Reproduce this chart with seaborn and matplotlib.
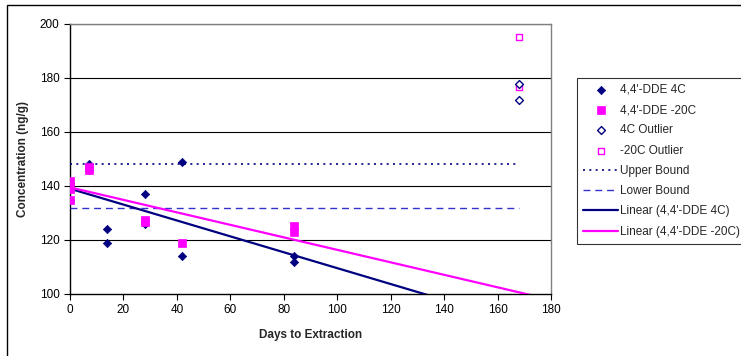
import numpy as np
import pandas as pd
import seaborn as sns
from matplotlib import pyplot as plt
from matplotlib.patches import Rectangle

# values
days_4c = [0, 0, 0, 7, 7, 14, 14, 28, 28, 42, 42, 84, 84]
conc_4c = [141, 139, 135, 148, 146, 124, 119, 137, 126, 149, 114, 114, 112]
days_20c = [0, 0, 0, 7, 7, 28, 28, 42, 84, 84]
conc_20c = [142, 139, 135, 147, 146, 127.4, 126.8, 118.8, 125.2, 122.9]
days_out_4c = [168, 168]
conc_out_4c = [177.7, 171.9]
days_out_20c = [168, 168]
conc_out_20c = [195.1, 176.8]
upper_bound = 148.1
lower_bound = 131.7
x_ticks = list(range(0, 181, 20))
y_ticks = list(range(100, 201, 20))

NAVY = '#000080'
PINK = '#FF00FF'

sns.set_style('white')
plt.rcParams['font.family'] = ['Liberation Sans', 'DejaVu Sans']

fig = plt.figure(figsize=(7.41, 3.56), dpi=100)
ax = fig.add_axes([70 / 741, 1 - 294 / 356, 481 / 741, 270 / 356])

# outer chart border (runs off the right and bottom of the picture)
fig.patches.append(Rectangle((7 / 741, -0.2), 1.2, 1 - 5 / 356 + 0.2,
                             transform=fig.transFigure, fill=False,
                             edgecolor='black', linewidth=1.0, zorder=0))

for y in y_ticks[1:]:
    ax.axhline(y, color='black', linewidth=0.8, zorder=1)

df4 = pd.DataFrame({'Days': days_4c, 'Conc': conc_4c})
df20 = pd.DataFrame({'Days': days_20c, 'Conc': conc_20c})

xs = np.array([0, 180])
fit4 = np.polyfit(days_4c, conc_4c, 1)
fit20 = np.polyfit(days_20c, conc_20c, 1)

sns.scatterplot(data=df4, x='Days', y='Conc', ax=ax, marker='D', s=18,
                color=NAVY, edgecolor=NAVY, linewidth=0.5, zorder=4,
                label="4,4'-DDE 4C")
sns.scatterplot(data=df20, x='Days', y='Conc', ax=ax, marker='s', s=26,
                color=PINK, edgecolor=PINK, linewidth=0.5, zorder=5,
                label="4,4'-DDE -20C")
sns.scatterplot(x=days_out_4c, y=conc_out_4c, ax=ax, marker='D', s=16,
                facecolor='white', edgecolor=NAVY, linewidth=1.0, zorder=5,
                label='4C Outlier')
sns.scatterplot(x=days_out_20c, y=conc_out_20c, ax=ax, marker='s', s=22,
                facecolor='white', edgecolor=PINK, linewidth=1.0, zorder=4,
                label='-20C Outlier')
ax.plot([0, 168], [upper_bound, upper_bound], linestyle=(0, (1.2, 2.6)),
        color=NAVY, linewidth=1.2, zorder=3, label='Upper Bound')
ax.plot([0, 168], [lower_bound, lower_bound], linestyle=(0, (5, 3.5)),
        color='#3333CC', linewidth=1.0, zorder=3, label='Lower Bound')
sns.lineplot(x=xs, y=np.polyval(fit4, xs), ax=ax, color=NAVY, linewidth=1.6,
             zorder=3, label="Linear (4,4'-DDE 4C)")
sns.lineplot(x=xs, y=np.polyval(fit20, xs), ax=ax, color=PINK, linewidth=1.6,
             zorder=3, label="Linear (4,4'-DDE -20C)")

ax.set_xlim(0, 180)
ax.set_ylim(100, 200)
ax.set_xticks(x_ticks)
ax.set_yticks(y_ticks)
ax.tick_params(axis='both', direction='out', length=4, width=0.8,
               labelsize=8.5, colors='black', bottom=True, left=True)
for side in ['top', 'right']:
    ax.spines[side].set_color('#808080')
    ax.spines[side].set_linewidth(1.0)
for side in ['bottom', 'left']:
    ax.spines[side].set_color('black')
    ax.spines[side].set_linewidth(1.0)
ax.set_xlabel('Days to Extraction', fontsize=8.5, fontweight='bold', labelpad=9)
ax.set_ylabel('Concentration (ng/g)', fontsize=8.5, fontweight='bold', labelpad=8)

leg = ax.legend(loc='upper left', bbox_to_anchor=(577 / 741, 1 - 78 / 356),
                bbox_transform=fig.transFigure, fontsize=8.5, frameon=True,
                fancybox=False, handlelength=3.0, handletextpad=0.15,
                labelspacing=0.7, borderpad=0.5, borderaxespad=0)
leg.get_frame().set_edgecolor('black')
leg.get_frame().set_linewidth(0.8)

fig.savefig('out.png', dpi=100)
